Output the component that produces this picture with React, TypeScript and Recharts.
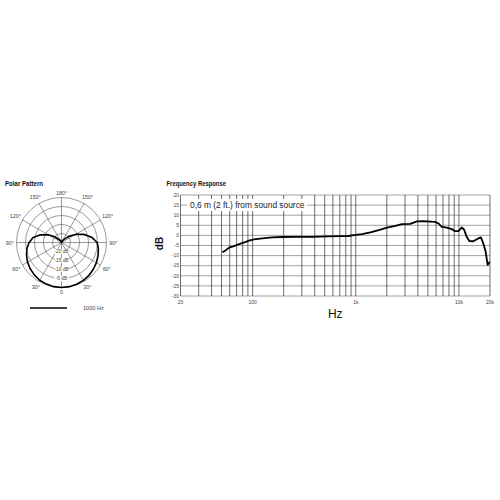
import React from 'react';
import {
  RadarChart, Radar, PolarGrid, PolarAngleAxis, PolarRadiusAxis, Legend,
  LineChart, Line, XAxis, YAxis, CartesianGrid,
} from 'recharts';

// ---------- Polar pattern data ----------
const polarAngles = [0, 10, 20, 30, 40, 50, 60, 70, 80, 90, 100, 110, 120, 130, 140, 150, 160, 170,
  180, 190, 200, 210, 220, 230, 240, 250, 260, 270, 280, 290, 300, 310, 320, 330, 340, 350];
const polarDb = [0, -0.1, -0.4, -0.8, -1.5, -2.3, -3.2, -4.3, -5.5, -7, -9, -12.6, -16.5, -20, -22.8, -24, -24.6, -24.9,
  -25, -24.9, -24.6, -24, -22.6, -19.7, -16, -11.8, -8, -5.2, -4.2, -3.4, -2.6, -1.9, -1.2, -0.7, -0.3, -0.1];
const polarAngleTicks = [0, 30, 60, 90, 120, 150, 180, 210, 240, 270, 300, 330];
const polarRingTicks = [-25, -20, -15, -10, -5, 0];
const polarSeriesName = '1000 Hz';

// ---------- Frequency response data ----------
const freqs = [51, 55, 60, 66, 74, 83, 92, 103, 124, 155, 194, 260, 376, 543, 700, 850, 957, 1150, 1387, 1668,
  2010, 2418, 2805, 3373, 3915, 4530, 5880, 6330, 6820, 7620, 8530, 9170, 9870, 10640, 11200, 11890, 12600,
  13780, 15390, 16340, 17200, 18140, 18980, 19960];
const responseDb = [-8.4, -7.3, -5.9, -5.3, -4.3, -3.5, -2.6, -2.0, -1.5, -1.0, -0.8, -0.7, -0.7, -0.5, -0.4, -0.3, 0.1, 0.6, 1.5, 2.6,
  3.9, 4.7, 5.6, 5.7, 6.9, 7.0, 6.7, 5.9, 4.2, 3.8, 3.1, 2.1, 2.1, 3.9, 2.9, -0.7, -2.8,
  -2.9, -1.5, -1.0, -3.9, -8.0, -14.6, -13.0];
const gridFreqs = [20, 30, 40, 50, 60, 70, 80, 90, 100, 200, 300, 400, 500, 600, 700, 800, 900, 1000,
  2000, 3000, 4000, 5000, 6000, 7000, 8000, 9000, 10000, 20000];
const labeledFreqs = [20, 100, 1000, 10000, 20000];
const freqLabels = ['20', '100', '1k', '10k', '20k'];
const dbTicks = [20, 15, 10, 5, 0, -5, -10, -15, -20, -25, -30];

const polarData = polarAngles.map((a, i) => ({ angle: a, db: polarDb[i] }));
const responseData = freqs.map((f, i) => ({ f, db: responseDb[i] }));

const FONT = '"Liberation Sans", Arial, Helvetica, sans-serif';
const PCX = 61.5;
const PCY = 57.5;
const PR = 45;

const AngleTick = (props: any) => {
  const { x, y, payload } = props;
  const v = payload.value;
  const lbl = v === 0 ? '0' : `${v <= 180 ? v : 360 - v}°`;
  const dx = x - PCX;
  const dy = y - PCY;
  const d = Math.hypot(dx, dy) || 1;
  const ux = dx / d;
  const uy = dy / d;
  const w = lbl.length * 2.5;
  const off = 3 + (w / 2) * Math.abs(ux) + 1.9 * Math.abs(uy);
  const px = PCX + ux * (PR + off);
  const py = PCY + uy * (PR + off);
  return (
    <text x={px} y={py} textAnchor="middle" dominantBaseline="central" fontSize={5.4} fill="#444" fontFamily={FONT}>
      {lbl}
    </text>
  );
};

const RadiusTick = (props: any) => {
  const { x, y, payload } = props;
  const v = payload.value;
  if (v === -25 || v === 0) return <g />;
  return (
    <g>
      <rect x={x - 7} y={y - 2.4} width={14} height={4.8} fill="#fff" />
      <text x={x} y={y} textAnchor="middle" dominantBaseline="central" fontSize={4.8} fill="#444" fontFamily={FONT}>
        {`${v} dB`}
      </text>
    </g>
  );
};

const FreqTick = (props: any) => {
  const { x, y, payload } = props;
  const idx = labeledFreqs.indexOf(payload.value);
  if (idx < 0) return <g />;
  return (
    <text x={x} y={y + 6} textAnchor="middle" dominantBaseline="central" fontSize={5} fill="#444" fontFamily={FONT}>
      {freqLabels[idx]}
    </text>
  );
};

const DbLabel = (props: any) => {
  const vb = props.viewBox || { x: 140, y: 10, width: 40.5, height: 101 };
  const x = vb.x + 19.5;
  const y = vb.y + vb.height / 2 - 2;
  return (
    <text x={x} y={y} transform={`rotate(-90, ${x}, ${y})`} textAnchor="middle" dominantBaseline="central"
      fontSize={10} fontWeight="bold" fill="#111" fontFamily={FONT}>
      dB
    </text>
  );
};

const PolarLegend = () => (
  <svg width={90} height={10} style={{ display: 'block' }}>
    <line x1={2} x2={39} y1={5} y2={5} stroke="#000" strokeWidth={1.3} />
    <text x={55} y={5} dominantBaseline="central" fontSize={5.6} fill="#444" fontFamily={FONT}>{polarSeriesName}</text>
  </svg>
);

export default function App() {
  return (
    <div style={{ position: 'absolute', left: 0, top: 0, width: 500, height: 500, background: '#fff', fontFamily: FONT }}>
      <div style={{ position: 'absolute', left: 0, top: 185 }}>
        <RadarChart width={125} height={135} data={polarData} cx={PCX} cy={PCY} outerRadius={PR}
          startAngle={-90} endAngle={-450} margin={{ top: 0, right: 0, bottom: 0, left: 0 }}>
          <PolarGrid gridType="circle" stroke="#555" strokeWidth={0.6} />
          <PolarAngleAxis dataKey="angle" type="number" domain={[0, 360]} ticks={polarAngleTicks}
            tick={<AngleTick />} tickLine={false} axisLine={false} tickSize={0} />
          <PolarRadiusAxis angle={-90} type="number" domain={[-25, 0]} ticks={polarRingTicks}
            tick={<RadiusTick />} axisLine={false} />
          <Radar name={polarSeriesName} dataKey="db" stroke="#000" strokeWidth={1.6} fill="none" fillOpacity={0}
            dot={false} isAnimationActive={false} strokeLinejoin="round" />
          <Legend content={() => <PolarLegend />}
            wrapperStyle={{ position: 'absolute', left: 28, top: 118.3, width: 90, height: 10 }} />
        </RadarChart>
      </div>

      <div style={{ position: 'absolute', left: 140, top: 185 }}>
        <LineChart width={360} height={140} data={responseData} margin={{ top: 10, right: 10, bottom: 5, left: 0 }}>
          <CartesianGrid stroke="#7a7a7a" strokeWidth={0.7} vertical={false} />
          <CartesianGrid stroke="#2e2e2e" strokeWidth={0.7} horizontal={false} />
          <XAxis dataKey="f" type="number" scale="log" domain={[20, 20000]} ticks={gridFreqs} interval={0}
            tick={<FreqTick />} tickLine={false} axisLine={false} tickSize={0} tickMargin={0} height={24}
            allowDataOverflow
            label={{ value: 'Hz', position: 'insideBottom', offset: 2, fontSize: 12, fill: '#111', fontFamily: FONT }} />
          <YAxis type="number" domain={[-30, 20]} ticks={dbTicks} interval={0} width={40.5}
            tickLine={false} axisLine={false} tickSize={0} tickMargin={1.5}
            tick={{ fontSize: 5, fill: '#444', fontFamily: FONT }}
            label={(p: any) => <DbLabel {...p} />} />
          <Line dataKey="db" type="linear" stroke="#000" strokeWidth={1.8} dot={false}
            strokeLinejoin="round" isAnimationActive={false} />
        </LineChart>
      </div>

      <div style={{
        position: 'absolute', left: 187, top: 199, height: 12, lineHeight: '12px', padding: '0 2px 0 3px',
        background: '#fff', fontSize: 8.4, color: '#222', whiteSpace: 'nowrap', fontFamily: FONT,
      }}>
        0,6 m (2 ft.) from sound source
      </div>

      <svg width={500} height={500} style={{ position: 'absolute', left: 0, top: 0, pointerEvents: 'none' }}>
        <text x={5} y={186} fontSize={7} fontWeight="bold" fill="#111" fontFamily={FONT}
          textLength={38} lengthAdjust="spacingAndGlyphs">Polar Pattern</text>
        <text x={166.5} y={186} fontSize={7} fontWeight="bold" fill="#111" fontFamily={FONT}
          textLength={59.5} lengthAdjust="spacingAndGlyphs">Frequency Response</text>
      </svg>
    </div>
  );
}
